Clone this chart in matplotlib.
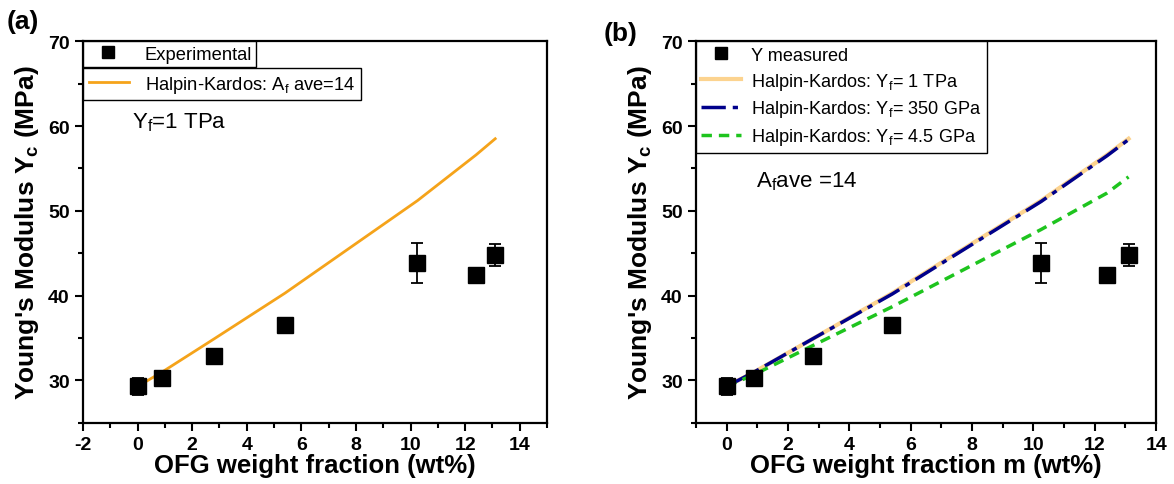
import matplotlib
matplotlib.use("Agg")
import matplotlib.pyplot as plt
from matplotlib.ticker import MultipleLocator

plt.rcParams['font.family'] = ['Liberation Sans', 'DejaVu Sans']
plt.rcParams['mathtext.fontset'] = 'custom'
plt.rcParams['mathtext.rm'] = 'Liberation Sans'
plt.rcParams['mathtext.it'] = 'Liberation Sans'
plt.rcParams['mathtext.bf'] = 'Liberation Sans:bold'
plt.rcParams['axes.unicode_minus'] = False

# experimental data
wt = [0, 0.9, 2.8, 5.4, 10.25, 12.4, 13.1]
y_meas = [29.3, 30.3, 32.9, 36.5, 43.85, 42.45, 44.75]
y_err = [1.0, 0.6, 0.3, 0.7, 2.35, 0.4, 1.3]

# Halpin-Kardos predictions
hk_1tpa = [29.3, 31.0, 34.9, 40.3, 51.2, 56.6, 58.5]
hk_350gpa = [29.3, 31.0, 34.9, 40.2, 51.1, 56.5, 58.4]
hk_45gpa = [29.3, 30.7, 34.1, 38.7, 47.8, 52.1, 54.0]

fig = plt.figure(figsize=(11.74, 4.85), dpi=100)
ax1 = fig.add_axes([0.0707, 0.126, 0.3953, 0.787])
ax2 = fig.add_axes([0.5928, 0.126, 0.3920, 0.787])


def style(ax, xmin):
    ax.set_xlim(xmin, 15 if xmin == -2 else 14)
    ax.set_ylim(25, 70)
    ax.xaxis.set_major_locator(MultipleLocator(2))
    ax.xaxis.set_minor_locator(MultipleLocator(1))
    ax.yaxis.set_major_locator(MultipleLocator(10))
    ax.yaxis.set_minor_locator(MultipleLocator(5))
    ax.tick_params(which='major', direction='out', length=6, width=1.5,
                   labelsize=14, top=False, right=False)
    ax.tick_params(which='minor', direction='out', length=3.5, width=1.5,
                   top=False, right=False)
    for s in ax.spines.values():
        s.set_linewidth(1.6)
    for lab in ax.get_xticklabels() + ax.get_yticklabels():
        lab.set_fontweight('bold')
    ax.set_ylabel("Young's Modulus Y$_\\mathbf{c}$ (MPa)", fontsize=19,
                  fontweight='bold', labelpad=5)


# panel (a)
ax1.plot(wt, hk_1tpa, color='#f5a31a', lw=2, zorder=2)
ax1.errorbar(wt, y_meas, yerr=y_err, fmt='s', color='black', ms=11,
             capsize=4, elinewidth=1.3, capthick=1.3, zorder=3)
style(ax1, -2)
ax1.set_xlabel("OFG weight fraction (wt%)", fontsize=18.5, fontweight='bold',
               labelpad=0)
h1, = ax1.plot([], [], 's', color='black', ms=9)
h2, = ax1.plot([], [], color='#f5a31a', lw=2)
leg1 = ax1.legend([h1], ['Experimental'], loc='upper left', fontsize=13.2,
                  frameon=True, fancybox=False, edgecolor='black',
                  borderaxespad=0, borderpad=0.25, handlelength=2.2,
                  handletextpad=0.9, framealpha=1)
leg1.get_frame().set_linewidth(1)
ax1.add_artist(leg1)
leg2 = ax1.legend([h2], ['Halpin-Kardos: A$_\\mathrm{f}$ ave=14'],
                  loc='upper left', bbox_to_anchor=(0, 0.929), fontsize=13.2,
                  frameon=True, fancybox=False, edgecolor='black',
                  borderaxespad=0, borderpad=0.3, handlelength=2.2,
                  handletextpad=0.9, framealpha=1)
leg2.get_frame().set_linewidth(1)
ax1.text(0.105, 0.775, 'Y$_\\mathrm{f}$=1 TPa', transform=ax1.transAxes,
         fontsize=16)

# panel (b)
ax2.plot(wt, hk_1tpa, color='#fcd38f', lw=3, zorder=2,
         label='Halpin-Kardos: Y$_\\mathrm{f}$= 1 TPa')
ax2.plot(wt, hk_350gpa, color='#00008b', lw=2.5, ls=(0, (7, 2, 1.5, 2)),
         zorder=2, label='Halpin-Kardos: Y$_\\mathrm{f}$= 350 GPa')
ax2.plot(wt, hk_45gpa, color='#1ec41e', lw=2.5, ls=(0, (3, 2)), zorder=2,
         label='Halpin-Kardos: Y$_\\mathrm{f}$= 4.5 GPa')
ax2.errorbar(wt, y_meas, yerr=y_err, fmt='s', color='black', ms=11,
             capsize=4, elinewidth=1.3, capthick=1.3, zorder=3,
             label='Y measured')
style(ax2, -1)
ax2.set_xlabel("OFG weight fraction m (wt%)", fontsize=18.5,
               fontweight='bold', labelpad=0)
hb, lb = ax2.get_legend_handles_labels()
hm, = ax2.plot([], [], 's', color='black', ms=9)
leg3 = ax2.legend([hm] + hb[:3], ['Y measured'] + lb[:3], loc='upper left',
                  fontsize=13.1, frameon=True, fancybox=False,
                  edgecolor='black', borderaxespad=0, borderpad=0.3,
                  handlelength=2.2, handletextpad=0.55, labelspacing=0.38,
                  framealpha=1)
leg3.get_frame().set_linewidth(1)
ax2.text(0.13, 0.62, 'A$_\\mathrm{f}$ave =14', transform=ax2.transAxes,
         fontsize=16)

fig.text(0.006, 0.94, '(a)', fontsize=19, fontweight='bold')
fig.text(0.514, 0.915, '(b)', fontsize=19, fontweight='bold')

fig.savefig('out.png', dpi=100)
